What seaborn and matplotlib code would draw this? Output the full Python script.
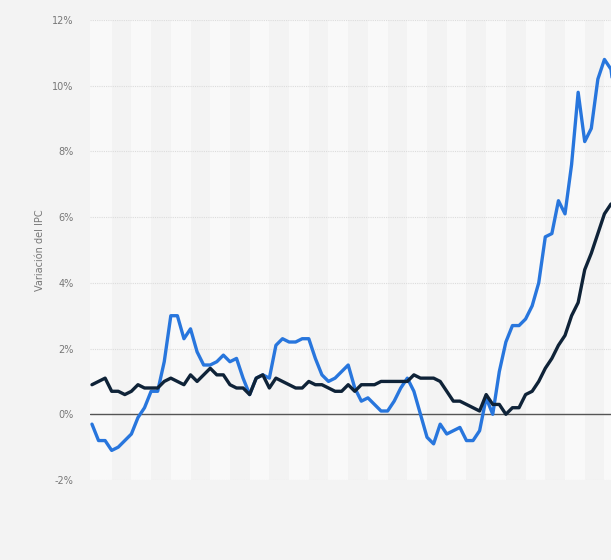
import matplotlib
matplotlib.use("Agg")
import matplotlib.pyplot as plt
import seaborn as sns
import numpy as np
import pandas as pd

# Monthly data, Jan 2016 onward (index 0 = Jan 2016)
ipc_general = [
    -0.3, -0.8, -0.8, -1.1, -1.0, -0.8, -0.6, -0.1, 0.2, 0.7, 0.7, 1.6,   # 2016
    3.0, 3.0, 2.3, 2.6, 1.9, 1.5, 1.5, 1.6, 1.8, 1.6, 1.7, 1.1,           # 2017
    0.6, 1.1, 1.2, 1.1, 2.1, 2.3, 2.2, 2.2, 2.3, 2.3, 1.7, 1.2,           # 2018
    1.0, 1.1, 1.3, 1.5, 0.8, 0.4, 0.5, 0.3, 0.1, 0.1, 0.4, 0.8,           # 2019
    1.1, 0.7, 0.0, -0.7, -0.9, -0.3, -0.6, -0.5, -0.4, -0.8, -0.8, -0.5,  # 2020
    0.5, 0.0, 1.3, 2.2, 2.7, 2.7, 2.9, 3.3, 4.0, 5.4, 5.5, 6.5,           # 2021
    6.1, 7.6, 9.8, 8.3, 8.7, 10.2, 10.8, 10.5, 8.9,                       # 2022
]
ipc_subyacente = [
    0.9, 1.0, 1.1, 0.7, 0.7, 0.6, 0.7, 0.9, 0.8, 0.8, 0.8, 1.0,
    1.1, 1.0, 0.9, 1.2, 1.0, 1.2, 1.4, 1.2, 1.2, 0.9, 0.8, 0.8,
    0.6, 1.1, 1.2, 0.8, 1.1, 1.0, 0.9, 0.8, 0.8, 1.0, 0.9, 0.9,
    0.8, 0.7, 0.7, 0.9, 0.7, 0.9, 0.9, 0.9, 1.0, 1.0, 1.0, 1.0,
    1.0, 1.2, 1.1, 1.1, 1.1, 1.0, 0.7, 0.4, 0.4, 0.3, 0.2, 0.1,
    0.6, 0.3, 0.3, 0.0, 0.2, 0.2, 0.6, 0.7, 1.0, 1.4, 1.7, 2.1,
    2.4, 3.0, 3.4, 4.4, 4.9, 5.5, 6.1, 6.4, 6.2,
]
y_ticks = [-2, 0, 2, 4, 6, 8, 10, 12]
y_tick_labels = ["-2%", "0%", "2%", "4%", "6%", "8%", "10%", "12%"]

n = len(ipc_general)
df = pd.DataFrame({
    "mes": list(range(n)) * 2,
    "valor": ipc_general + ipc_subyacente,
    "serie": ["General"] * n + ["Subyacente"] * n,
})

sns.set_theme(style="white")
plt.rcParams["font.family"] = ["DejaVu Sans"]

bg = "#f3f3f3"
fig = plt.figure(figsize=(6.11, 5.60), dpi=100, facecolor=bg)
ax = fig.add_axes([90 / 611, 80 / 560, 1 - 90 / 611, 460 / 560])
ax.set_facecolor(bg)

x_left, x_right = -0.3, 79.0
# alternating vertical bands every 3 months
for k in range(0, 30):
    start = 3 * k
    lo = start if k > 0 else x_left
    color = "#f9f9f9" if k % 2 == 0 else "#f3f3f3"
    ax.axvspan(lo, start + 3, color=color, lw=0, zorder=0)

for t in y_ticks:
    if t == 0:
        ax.axhline(0, color="#555555", lw=1.0, zorder=1)
    else:
        ax.axhline(t, color="#dcdcdc", lw=0.8, ls=(0, (1, 1)), zorder=1)

sns.lineplot(data=df, x="mes", y="valor", hue="serie",
             palette={"General": "#2876dd", "Subyacente": "#0f2338"},
             linewidth=2.4, legend=False, ax=ax, zorder=3)

ax.set_xlim(x_left, x_right)
ax.set_ylim(-2, 12)
ax.set_yticks(y_ticks)
ax.set_yticklabels(y_tick_labels)
ax.set_xticks([])
ax.tick_params(axis="y", length=0, pad=12, labelsize=7, labelcolor="#777777")
ax.set_xlabel("")
ax.set_ylabel("Variación del IPC", fontsize=7, color="#777777")
ax.yaxis.set_label_coords((45 - 90) / 521, 0.5)
for s in ax.spines.values():
    s.set_visible(False)

fig.savefig("out.png", dpi=100, facecolor=bg)
